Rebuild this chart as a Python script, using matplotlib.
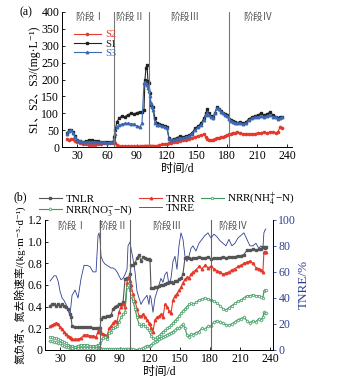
import matplotlib
matplotlib.use("Agg")
import matplotlib.pyplot as plt
from matplotlib.ticker import FuncFormatter

plt.rcParams['font.family'] = ['Liberation Serif', 'Noto Sans CJK SC', 'DejaVu Sans']
plt.rcParams['mathtext.fontset'] = 'stix'
plt.rcParams['font.size'] = 8.5
plt.rcParams['axes.linewidth'] = 0.7

# ---- panel (a): S1 / S2 / S3 concentration, mg/L ----
days_a = [20, 22, 24, 26, 28, 30, 33, 36, 39, 42,
          45, 48, 51, 54, 57, 60, 63, 66, 67, 68,
          70, 72, 75, 78, 81, 84, 87, 90, 93, 95,
          97, 98, 99, 100, 101, 102, 103, 104, 105, 106,
          108, 110, 112, 115, 118, 120, 122, 124, 127, 130,
          133, 136, 139, 142, 145, 148, 151, 154, 157, 159,
          160, 162, 164, 166, 168, 170, 172, 174, 176, 178,
          180, 182, 184, 186, 188, 190, 193, 196, 199, 202,
          205, 208, 211, 214, 217, 220, 223, 226, 229, 231,
          233, 235]
s1 = [42, 50, 50, 45, 32, 22, 18, 16, 18, 20,
      20, 18, 17, 16, 16, 15, 14, 15, 30, 50,
      75, 85, 92, 90, 96, 100, 98, 102, 105, 105,
      110, 200, 235, 243, 195, 190, 160, 125, 120, 118,
      85, 70, 68, 64, 62, 58, 28, 22, 24, 28,
      32, 30, 33, 35, 42, 55, 62, 70, 85, 100,
      112, 100, 92, 88, 102, 118, 114, 108, 102, 97,
      94, 84, 80, 76, 74, 72, 75, 70, 74, 84,
      88, 92, 95, 100, 95, 98, 103, 95, 90, 85,
      88, 90]
s2 = [25, 22, 24, 25, 18, 15, 12, 10, 8, 6,
      5, 6, 8, 10, 12, 12, 12, 13, 15, 12,
      5, 3, 2, 2, 2, 2, 2, 2, 2, 2,
      2, 2, 2, 2, 2, 2, 2, 2, 2, 3,
      3, 4, 6, 8, 10, 10, 12, 12, 14, 15,
      18, 20, 22, 25, 28, 30, 33, 36, 38, 30,
      25, 22, 20, 22, 25, 28, 28, 30, 30, 32,
      35, 38, 40, 42, 42, 45, 42, 40, 40, 38,
      40, 40, 42, 42, 45, 42, 45, 44, 42, 45,
      58, 55]
s3 = [40, 48, 50, 42, 30, 22, 18, 15, 15, 16,
      15, 16, 14, 14, 15, 13, 14, 15, 25, 40,
      60, 66, 68, 70, 70, 69, 68, 62, 60, 70,
      190, 192, 190, 185, 175, 165, 150, 130, 118, 110,
      70, 65, 64, 62, 60, 55, 25, 20, 22, 25,
      28, 26, 30, 32, 40, 50, 58, 65, 80, 95,
      100, 96, 88, 85, 100, 115, 112, 105, 100, 95,
      92, 82, 78, 75, 72, 70, 72, 68, 70, 80,
      85, 88, 90, 92, 90, 93, 95, 90, 88, 82,
      85, 88]

# ---- panel (b): loading / removal rates, kg/(m3 d), and TNRE % ----
days_b = [20, 22, 24, 26, 28, 30, 32, 34, 36, 38,
          40, 41, 42, 45, 48, 51, 54, 57, 60, 63,
          66, 68, 69, 70, 71, 73, 75, 77, 79, 81,
          83, 85, 87, 89, 91, 93, 95, 97, 98, 100,
          101, 103, 105, 107, 109, 111, 113, 115, 117, 119,
          120, 121, 123, 125, 127, 129, 131, 133, 135, 137,
          139, 141, 143, 145, 147, 149, 151, 153, 155, 157,
          159, 161, 163, 166, 169, 172, 175, 178, 181, 184,
          187, 190, 193, 196, 199, 202, 205, 208, 211, 214,
          217, 220, 223, 226, 229, 231, 233, 234, 235, 236]
tnlr = [0.41, 0.42, 0.42, 0.41, 0.42, 0.41, 0.42, 0.41, 0.40, 0.38,
        0.33, 0.30, 0.22, 0.21, 0.21, 0.21, 0.21, 0.21, 0.21, 0.20,
        0.20, 0.20, 0.19, 0.20, 0.29, 0.30, 0.30, 0.31, 0.31, 0.32,
        0.38, 0.40, 0.41, 0.42, 0.42, 0.44, 0.65, 0.66, 0.66, 0.70,
        0.78, 0.78, 0.80, 0.85, 0.88, 0.82, 0.86, 0.85, 0.84, 0.84,
        0.83, 0.57, 0.57, 0.58, 0.58, 0.59, 0.60, 0.60, 0.61, 0.62,
        0.63, 0.63, 0.62, 0.64, 0.64, 0.65, 0.66, 0.70, 0.85, 0.86,
        0.85, 0.84, 0.85, 0.85, 0.86, 0.85, 0.85, 0.86, 0.84, 0.85,
        0.85, 0.85, 0.86, 0.85, 0.86, 0.86, 0.86, 0.87, 0.87, 0.88,
        0.92, 0.92, 0.93, 0.92, 0.93, 0.93, 0.95, 0.95, 0.94, 0.95]
tnrr = [0.22, 0.23, 0.24, 0.25, 0.24, 0.21, 0.19, 0.17, 0.15, 0.13,
        0.12, 0.11, 0.10, 0.10, 0.10, 0.11, 0.14, 0.14, 0.13, 0.13,
        0.12, 0.17, 0.18, 0.18, 0.16, 0.15, 0.14, 0.13, 0.20, 0.22,
        0.25, 0.27, 0.26, 0.35, 0.40, 0.42, 0.40, 0.62, 0.66, 0.64,
        0.60, 0.52, 0.45, 0.38, 0.31, 0.31, 0.33, 0.30, 0.28, 0.25,
        0.24, 0.20, 0.17, 0.28, 0.30, 0.31, 0.33, 0.30, 0.42, 0.40,
        0.36, 0.34, 0.46, 0.50, 0.52, 0.55, 0.58, 0.62, 0.65, 0.67,
        0.66, 0.70, 0.72, 0.74, 0.77, 0.75, 0.78, 0.76, 0.77, 0.75,
        0.73, 0.72, 0.70, 0.71, 0.72, 0.74, 0.75, 0.77, 0.78, 0.80,
        0.81, 0.82, 0.80, 0.76, 0.75, 0.74, 0.72, 0.90, 0.90, 0.90]
nrr_nh4 = [0.12, 0.12, 0.11, 0.11, 0.10, 0.09, 0.08, 0.07, 0.06, 0.05,
           0.04, 0.04, 0.04, 0.03, 0.04, 0.05, 0.05, 0.05, 0.04, 0.04,
           0.04, 0.05, 0.05, 0.06, 0.09, 0.11, 0.12, 0.10, 0.16, 0.17,
           0.20, 0.21, 0.22, 0.26, 0.30, 0.33, 0.35, 0.58, 0.60, 0.55,
           0.50, 0.45, 0.38, 0.30, 0.24, 0.22, 0.24, 0.22, 0.20, 0.18,
           0.17, 0.13, 0.11, 0.10, 0.12, 0.13, 0.15, 0.17, 0.18, 0.20,
           0.21, 0.23, 0.25, 0.27, 0.29, 0.31, 0.34, 0.36, 0.38, 0.40,
           0.42, 0.43, 0.42, 0.44, 0.46, 0.47, 0.48, 0.47, 0.46, 0.45,
           0.43, 0.41, 0.38, 0.37, 0.39, 0.41, 0.43, 0.45, 0.46, 0.48,
           0.50, 0.50, 0.51, 0.50, 0.50, 0.49, 0.48, 0.54, 0.55, 0.55]
nrr_no3 = [0.08, 0.08, 0.07, 0.07, 0.06, 0.06, 0.05, 0.04, 0.03, 0.03,
           0.02, 0.02, 0.02, 0.01, 0.02, 0.02, 0.02, 0.02, 0.02, 0.02,
           0.02, 0.02, 0.02, 0.02, 0.01, 0.01, 0.01, 0.01, 0.01, 0.01,
           0.01, 0.01, 0.01, 0.01, 0.01, 0.01, 0.01, 0.01, 0.01, 0.01,
           0.01, 0.01, 0.00, 0.00, 0.01, 0.01, 0.02, 0.03, 0.04, 0.04,
           0.04, 0.05, 0.06, 0.07, 0.08, 0.10, 0.11, 0.12, 0.13, 0.14,
           0.15, 0.16, 0.17, 0.18, 0.20, 0.20, 0.22, 0.24, 0.20, 0.14,
           0.12, 0.15, 0.14, 0.16, 0.17, 0.20, 0.19, 0.22, 0.22, 0.26,
           0.27, 0.26, 0.25, 0.23, 0.23, 0.24, 0.26, 0.28, 0.29, 0.30,
           0.27, 0.25, 0.27, 0.26, 0.29, 0.28, 0.30, 0.35, 0.34, 0.34]
tnre = [53, 55, 57, 57, 53, 45, 40, 38, 35, 30,
        27, 35, 42, 46, 40, 55, 65, 65, 64, 60,
        60, 88, 90, 85, 72, 68, 66, 65, 64, 63,
        63, 62, 60, 57, 54, 55, 58, 62, 80, 83,
        78, 70, 60, 45, 40, 35, 38, 40, 42, 35,
        42, 40, 29, 40, 45, 50, 55, 52, 58, 60,
        50, 55, 68, 72, 62, 80, 90, 85, 72, 68,
        72, 78, 80, 76, 82, 85, 88, 90, 86, 89,
        87, 84, 82, 80, 85, 80, 82, 86, 88, 90,
        85, 80, 80, 82, 78, 80, 78, 90, 92, 93]

stages = ['阶段Ⅰ', '阶段Ⅱ', '阶段Ⅲ', '阶段Ⅳ']

RED = '#e4392b'
BLACK = '#222222'
GRAY = '#555555'
BLUE = '#3d68b2'
GREEN = '#3c9a5f'
NAVY = '#2e3f95'

fig = plt.figure(figsize=(3.39, 3.85), dpi=100)

# ---------- (a) ----------
ax1 = fig.add_axes([0.183, 0.618, 0.678, 0.351])
ax1.plot(days_a, s2, color=RED, marker='o', ms=1.6, lw=0.8, label='S2')
ax1.plot(days_a, s1, color=BLACK, marker='s', ms=1.6, lw=0.8, label='S1')
ax1.plot(days_a, s3, color=BLUE, marker='^', ms=1.8, lw=0.8, label='S3')
for d in (67, 102, 182):
    ax1.axvline(d, color='#777777', lw=0.8)
for d, s in zip((43, 83, 138, 211), stages):
    ax1.text(d, 385, s, ha='center', va='center', fontsize=7, color='#555555')
ax1.set_xlim(15, 245)
ax1.set_ylim(0, 400)
ax1.set_xticks(range(30, 241, 30))
ax1.set_yticks(range(0, 401, 50))
ax1.spines['top'].set_visible(False)
ax1.spines['right'].set_visible(False)
ax1.tick_params(direction='in', length=2, width=0.6, pad=2)
ax1.set_xlabel('时间/d', labelpad=1)
ax1.set_ylabel('S1、S2、S3/(mg·L⁻¹)', labelpad=1)
leg = ax1.legend(loc='upper left', bbox_to_anchor=(0.02, 0.92), frameon=False,
                 fontsize=7.5, handlelength=2.6, labelspacing=0.0, borderpad=0.2,
                 handletextpad=0.4)
for t, c in zip(leg.get_texts(), (RED, BLACK, BLUE)):
    t.set_color(c)
fig.text(20 / 339, 1 - 12 / 385, '(a)', ha='left', va='center', fontsize=8.5)

# ---------- (b) ----------
ax2 = fig.add_axes([0.133, 0.091, 0.672, 0.338])
ax3 = ax2.twinx()
h_tnre, = ax3.plot(days_b, tnre, color=NAVY, lw=0.6, label='TNRE')
h_tnlr, = ax2.plot(days_b, tnlr, color=GRAY, marker='s', ms=1.5, lw=0.8, label='TNLR')
h_tnrr, = ax2.plot(days_b, tnrr, color=RED, marker='^', ms=1.8, lw=0.8, label='TNRR')
h_nh4, = ax2.plot(days_b, nrr_nh4, color=GREEN, marker='o', ms=1.8, mfc='white',
                  mew=0.5, lw=0.8, label='NRR(NH$_4^{+}$−N)')
h_no3, = ax2.plot(days_b, nrr_no3, color=GREEN, marker='D', ms=1.6, mfc='white',
                  mew=0.5, lw=0.8, label='NRR(NO$_3^{-}$−N)')
ax2.set_zorder(ax3.get_zorder() + 1)
ax2.patch.set_visible(False)
for d in (70, 100, 181):
    ax2.axvline(d, color='#666666', lw=0.8)
for d, s in zip((42, 83, 137, 203), stages):
    ax2.text(d, 1.14, s, ha='center', va='center', fontsize=7, color='#555555')
ax2.set_xlim(15, 243)
ax2.set_ylim(0, 1.2)
ax3.set_ylim(0, 100)
ax2.set_xticks(range(30, 241, 30))
ax2.set_yticks([0, 0.2, 0.4, 0.6, 0.8, 1.0, 1.2])
ax2.yaxis.set_major_formatter(FuncFormatter(lambda v, p: '0' if v == 0 else f'{v:.1f}'))
ax3.set_yticks(range(0, 101, 20))
for a in (ax2, ax3):
    a.spines['top'].set_visible(False)
ax2.tick_params(direction='in', length=2, width=0.6, pad=2)
ax3.tick_params(axis='y', direction='out', length=2, width=0.6, colors=NAVY, pad=2)
ax3.spines['right'].set_color(NAVY)
ax2.set_xlabel('时间/d', labelpad=1)
ax2.set_ylabel('氮负荷、氮去除速率/(kg·m⁻³·d⁻¹)', labelpad=1, fontsize=7.8)
ax3.set_ylabel('TNRE/%', color=NAVY, fontsize=9.5, labelpad=1)
fig.legend(handles=[h_tnlr, h_no3, h_tnrr, h_tnre, h_nh4], loc='upper left',
           bbox_to_anchor=(32 / 339, 1 - 184 / 385), ncol=3, frameon=False,
           fontsize=8, handlelength=2.1, labelspacing=-0.1, columnspacing=0.5,
           handletextpad=0.3, borderpad=0.1)
fig.text(14 / 339, 1 - 197 / 385, '(b)', ha='left', va='center', fontsize=8.5)

fig.savefig('out.png', dpi=100)
